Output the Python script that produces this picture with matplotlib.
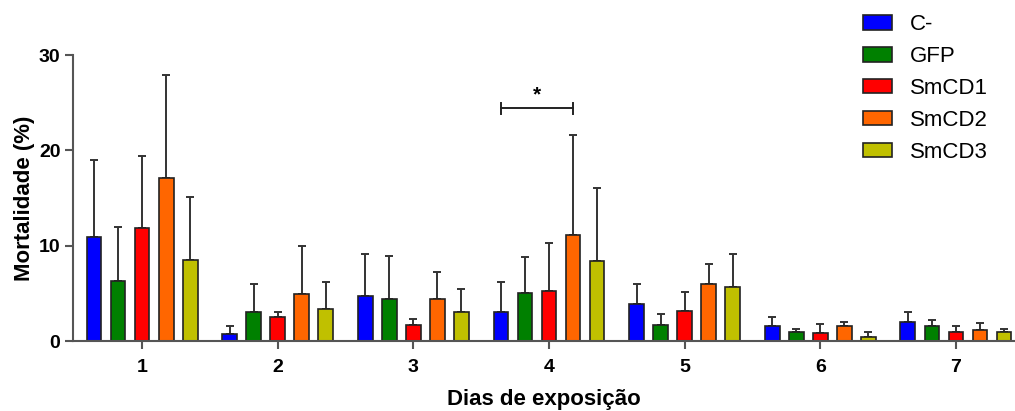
import matplotlib
matplotlib.use("Agg")
import matplotlib.pyplot as plt
import numpy as np
from matplotlib.patches import Patch

plt.rcParams['font.family'] = ['Liberation Sans', 'DejaVu Sans']

days = ['1', '2', '3', '4', '5', '6', '7']
groups = ['C-', 'GFP', 'SmCD1', 'SmCD2', 'SmCD3']
colors = ['#0000FF', '#008000', '#FF0000', '#FF6600', '#C0C000']

mean_c = [10.9, 0.73, 4.69, 3.01, 3.92, 1.61, 2.0]
mean_gfp = [6.3, 3.0, 4.45, 5.04, 1.65, 0.95, 1.58]
mean_cd1 = [11.9, 2.5, 1.65, 5.22, 3.12, 0.84, 0.91]
mean_cd2 = [17.15, 4.97, 4.41, 11.1, 6.02, 1.61, 1.19]
mean_cd3 = [8.47, 3.33, 3.08, 8.37, 5.64, 0.46, 0.95]

top_c = [18.97, 1.54, 9.17, 6.2, 6.02, 2.56, 3.05]
top_gfp = [12.0, 6.0, 8.93, 8.82, 2.8, 1.3, 2.17]
top_cd1 = [19.4, 3.05, 2.28, 10.26, 5.11, 1.79, 1.54]
top_cd2 = [27.9, 10.0, 7.25, 21.6, 8.12, 2.03, 1.86]
top_cd3 = [15.1, 6.23, 5.43, 16.07, 9.1, 0.91, 1.26]

means = [mean_c, mean_gfp, mean_cd1, mean_cd2, mean_cd3]
tops = [top_c, top_gfp, top_cd1, top_cd2, top_cd3]

W, H = 1015, 411
fig = plt.figure(figsize=(W / 100, H / 100), dpi=100)
ax = fig.add_axes([73 / W, 1 - 341 / H, (1014 - 73) / W, (341 - 55) / H])

x = np.arange(1, len(days) + 1)
offset = 0.177
width = 0.11
for i, (m, t, c, g) in enumerate(zip(means, tops, colors, groups)):
    pos = x + (i - 2) * offset
    m = np.array(m)
    t = np.array(t)
    ax.errorbar(pos, m, yerr=[np.zeros_like(m), t - m], fmt='none',
                ecolor='#333333', elinewidth=1.4, capsize=3.2, capthick=1.4, zorder=1)
    ax.bar(pos, m, width=width, color=c, edgecolor='#222222', linewidth=1.2, zorder=2, label=g)

# significance bracket on day 4 (C- vs SmCD2)
x1 = 4 - 2 * offset
x2 = 4 + 1 * offset
yb = 24.4
ax.plot([x1, x2], [yb, yb], color='#222222', lw=1.4, clip_on=False)
ax.plot([x1, x1], [yb - 0.55, yb + 0.55], color='#222222', lw=1.4, clip_on=False)
ax.plot([x2, x2], [yb - 0.55, yb + 0.55], color='#222222', lw=1.4, clip_on=False)
ax.text((x1 + x2) / 2, yb + 0.4, '*', ha='center', va='bottom', fontsize=15, fontweight='bold')

ax.set_xlim(1 - (142 - 73) / 135.6, 7 + (1014 - 956) / 135.6)
ax.set_ylim(0, 30)
ax.set_yticks([0, 10, 20, 30])
ax.set_xticks(x)
ax.set_xticklabels(days)

for s in ['top', 'right']:
    ax.spines[s].set_visible(False)
for s in ['left', 'bottom']:
    ax.spines[s].set_color('#555555')
    ax.spines[s].set_linewidth(1.5)
ax.tick_params(axis='both', colors='#555555', width=1.5, length=6, direction='out',
               labelcolor='black', labelsize=14)
for lab in ax.get_xticklabels() + ax.get_yticklabels():
    lab.set_fontweight('bold')
ax.tick_params(axis='x', pad=7)
ax.tick_params(axis='y', pad=3)

ax.set_ylabel('Mortalidade (%)', fontsize=16, fontweight='bold', labelpad=3)
ax.set_xlabel('Dias de exposição', fontsize=16, fontweight='bold', labelpad=9)

handles = [Patch(facecolor=c, edgecolor='#222222', linewidth=1.2) for c in colors]
fig.legend(handles, groups, loc='upper left', bbox_to_anchor=(850 / W, 1 - 1 / H),
           frameon=False, fontsize=16, handlelength=1.3, handleheight=0.62,
           handletextpad=0.8, labelspacing=0.49, borderpad=0.1)

fig.savefig('out.png', dpi=100)
